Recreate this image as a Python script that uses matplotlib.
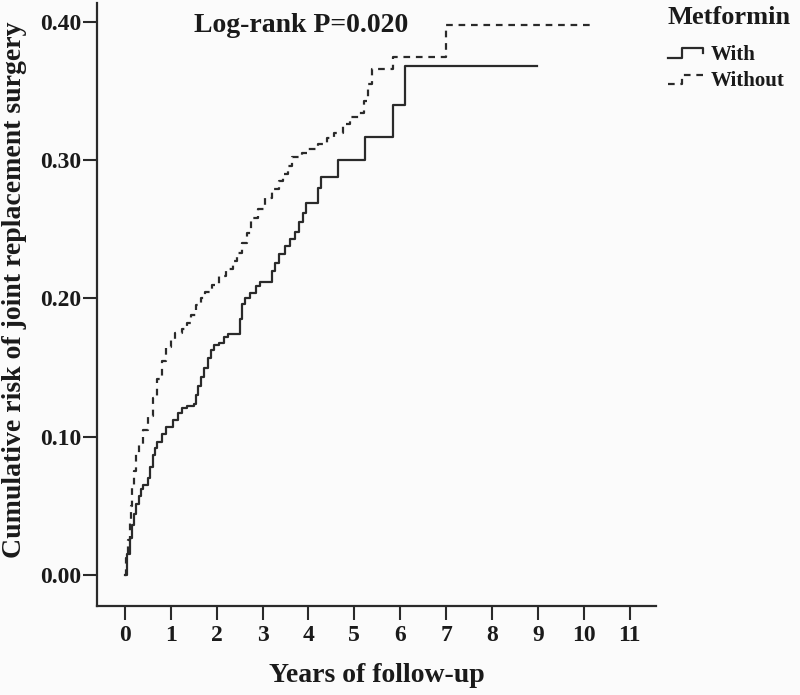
import numpy as np
import matplotlib
matplotlib.use('Agg')
import matplotlib.pyplot as plt
from matplotlib.lines import Line2D
from matplotlib.legend_handler import HandlerLine2D

# step times (years) and cumulative risk
t_with = [0, 0.05, 0.1, 0.15, 0.2, 0.25, 0.3, 0.35, 0.4, 0.5, 0.55, 0.6, 0.65, 0.7,
          0.8, 0.9, 1.05, 1.15, 1.25, 1.35, 1.5, 1.55, 1.6, 1.65, 1.72, 1.8, 1.87,
          1.95, 2.05, 2.15, 2.25, 2.5, 2.55, 2.62, 2.72, 2.85, 2.95, 3.2, 3.28,
          3.36, 3.48, 3.6, 3.7, 3.8, 3.88, 3.95, 4.2, 4.27, 4.65, 5.23, 5.85, 6.11, 8.98]
r_with = [0, 0.015, 0.027, 0.036, 0.044, 0.051, 0.057, 0.062, 0.065, 0.070, 0.078,
          0.087, 0.092, 0.096, 0.102, 0.107, 0.112, 0.117, 0.121, 0.122, 0.124,
          0.130, 0.137, 0.143, 0.150, 0.157, 0.163, 0.166, 0.168, 0.172, 0.174,
          0.185, 0.196, 0.200, 0.204, 0.209, 0.212, 0.220, 0.226, 0.232, 0.238,
          0.243, 0.248, 0.255, 0.262, 0.269, 0.280, 0.288, 0.300, 0.317, 0.340,
          0.368, 0.368]

t_without = [0, 0.03, 0.06, 0.1, 0.13, 0.16, 0.2, 0.25, 0.3, 0.4, 0.5, 0.6, 0.7,
             0.8, 0.9, 1.0, 1.1, 1.25, 1.35, 1.45, 1.55, 1.65, 1.75, 1.9, 2.05,
             2.2, 2.35, 2.45, 2.55, 2.65, 2.75, 2.9, 3.05, 3.2, 3.35, 3.45, 3.55,
             3.65, 3.85, 4.0, 4.2, 4.4, 4.55, 4.75, 4.9, 5.1, 5.2, 5.3, 5.38,
             5.85, 7.0, 10.21]
r_without = [0, 0.012, 0.025, 0.040, 0.050, 0.063, 0.075, 0.088, 0.095, 0.105,
             0.115, 0.128, 0.142, 0.155, 0.165, 0.170, 0.175, 0.178, 0.182, 0.188,
             0.195, 0.200, 0.205, 0.210, 0.216, 0.221, 0.227, 0.233, 0.240, 0.247,
             0.258, 0.265, 0.273, 0.279, 0.285, 0.290, 0.296, 0.302, 0.305, 0.308,
             0.312, 0.316, 0.320, 0.326, 0.331, 0.334, 0.343, 0.355, 0.366, 0.375,
             0.398, 0.398]

x_ticks = list(range(0, 12))
y_ticks = [0.0, 0.1, 0.2, 0.3, 0.4]


class StepHandler(HandlerLine2D):
    # SPSS-like little step glyph in the legend
    def create_artists(self, legend, orig_handle, xdescent, ydescent,
                       width, height, fontsize, trans):
        xs = np.array([0, 0.38, 0.38, 0.95, 0.95]) * width - xdescent
        ys = np.array([0.15, 0.15, 0.8, 0.8, 0.45]) * height - ydescent
        ln = Line2D(xs, ys)
        self.update_prop(ln, orig_handle, legend)
        ln.set_transform(trans)
        return [ln]


plt.rcParams['font.family'] = ['Liberation Serif', 'DejaVu Serif']
bg = '#fbfbfb'
ink = '#2a2a2a'
txt_c = '#1a1a1a'

fig = plt.figure(figsize=(8, 6.95), dpi=100, facecolor=bg)
ax = fig.add_axes([97 / 800, 1 - 605.7 / 695, (655.7 - 97) / 800, (605.7 - 3) / 695])
ax.set_facecolor(bg)

ax.plot(t_with, r_with, drawstyle='steps-post', color=ink, lw=1.6, label='With')
ax.plot(t_without, r_without, drawstyle='steps-post', color=ink, lw=1.6,
        dashes=(3.0, 2.6), label='Without')

ax.set_xlim(-0.61, 11.57)
ax.set_ylim(-0.0222, 0.4137)
ax.set_xticks(x_ticks)
ax.set_yticks(y_ticks)
ax.set_yticklabels(['%.2f' % v for v in y_ticks])
for s in ['top', 'right']:
    ax.spines[s].set_visible(False)
for s in ['left', 'bottom']:
    ax.spines[s].set_linewidth(1.6)
    ax.spines[s].set_color(ink)
ax.tick_params(direction='out', length=10, width=1.5, color=ink, labelcolor=txt_c,
               labelsize=17)
ax.tick_params(axis='x', pad=4)
ax.tick_params(axis='y', pad=1)
for lbl in ax.get_xticklabels() + ax.get_yticklabels():
    lbl.set_fontweight('bold')

fig.text(194 / 800, 1 - 26 / 695, 'Log-rank P=0.020', fontsize=20,
         fontweight='bold', color=txt_c, va='center', ha='left')
fig.text(377 / 800, 1 - 675 / 695, 'Years of follow-up', fontsize=20,
         fontweight='bold', color=txt_c, ha='center', va='center')
fig.text(15 / 800, 1 - 290 / 695, 'Cumulative risk of joint replacement surgery',
         fontsize=20, fontweight='bold', color=txt_c, rotation=90,
         ha='center', va='center')

# legend title drawn separately so it can sit apart from the entries
fig.text(668 / 800, 1 - 17 / 695, 'Metformin', fontsize=19, fontweight='bold',
         color=txt_c, ha='left', va='center')
leg = fig.legend(loc='upper left', bbox_to_anchor=(668 / 800, 1 - 45 / 695),
                 frameon=False, fontsize=15,
                 handlelength=1.75, handletextpad=0.3, labelspacing=0.3,
                 borderaxespad=0, borderpad=0,
                 handler_map={Line2D: StepHandler()})
for txt in leg.get_texts():
    txt.set_fontweight('bold')
    txt.set_color(txt_c)

fig.savefig('out.png', dpi=100, facecolor=bg)
